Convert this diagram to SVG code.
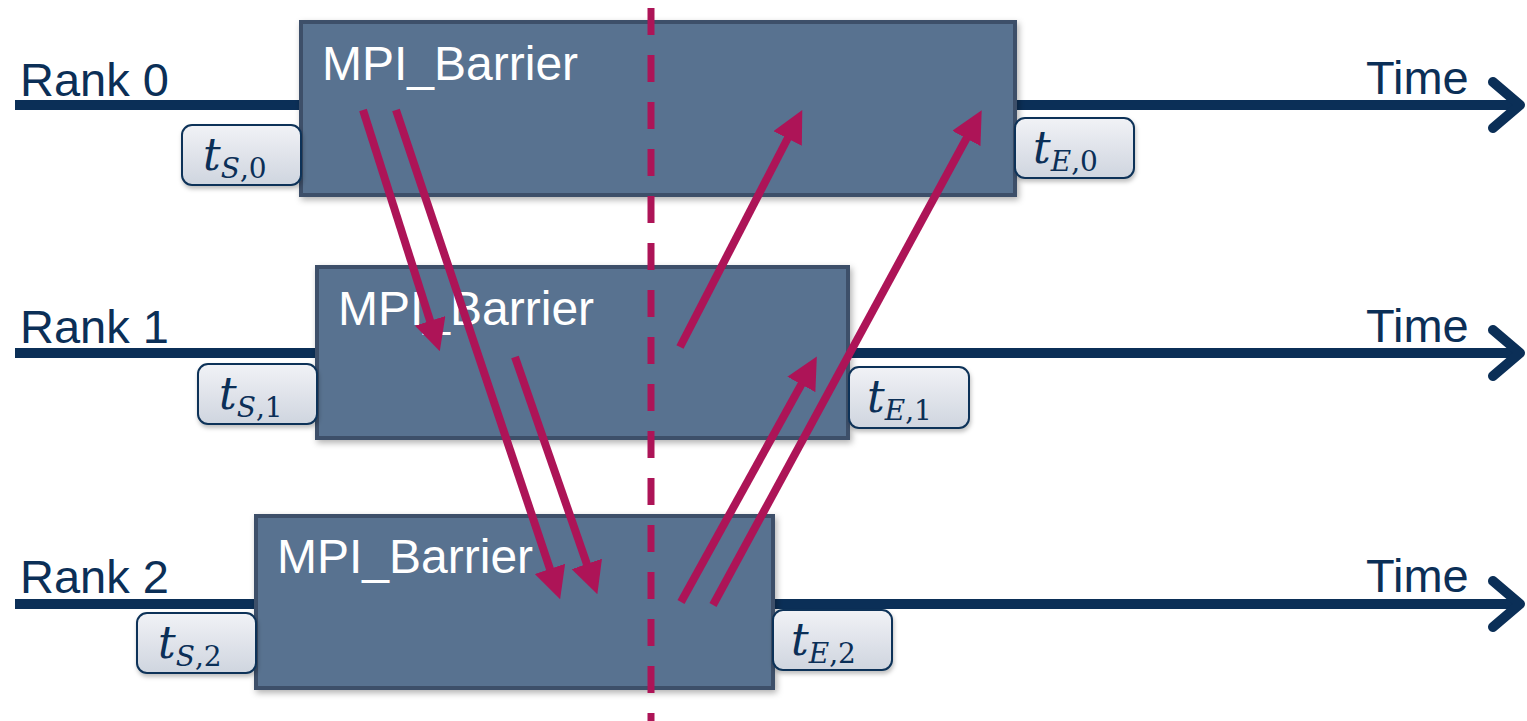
<svg xmlns="http://www.w3.org/2000/svg" width="1527" height="721" viewBox="0 0 1527 721">
<style>
.tl{stroke:#0b2f57;stroke-width:10;fill:none}
.chev{stroke:#0b2f57;stroke-width:10;fill:none;stroke-linecap:round;stroke-linejoin:round}
.rank{font-family:"Liberation Sans",Arial,sans-serif;font-size:47px;fill:#0b2f57}
.box{fill:#587290;stroke:#3c5069;stroke-width:4;filter:url(#sh)}
.bl{font-family:"Liberation Sans",Arial,sans-serif;font-size:48px;fill:#ffffff}
.tb{fill:url(#g);stroke:#0f3358;stroke-width:2;filter:url(#sh2)}
.tt{font-family:"DejaVu Serif","Liberation Serif",serif;font-style:italic;fill:#0b2f57}
.up{font-style:normal}
.msg{stroke:#ad1457;stroke-width:8;fill:none;marker-end:url(#ah)}
.dash{stroke:#ad1457;stroke-width:7;stroke-dasharray:27 20;fill:none}
</style>
<defs>
<linearGradient id="g" x1="0" y1="0" x2="0" y2="1">
<stop offset="0" stop-color="#f1f2f6"/>
<stop offset="1" stop-color="#cfd5df"/>
</linearGradient>
<filter id="sh" x="-5%" y="-5%" width="110%" height="115%">
<feDropShadow dx="2" dy="3" stdDeviation="3" flood-color="#000" flood-opacity="0.3"/>
</filter>
<filter id="sh2" x="-10%" y="-10%" width="120%" height="130%">
<feDropShadow dx="1" dy="3" stdDeviation="2" flood-color="#000" flood-opacity="0.25"/>
</filter>
<marker id="ah" markerWidth="4" markerHeight="4" refX="1.2" refY="2" orient="auto" markerUnits="strokeWidth" viewBox="0 0 4 4">
<path d="M0,0 L4,2 L0,4 Z" fill="#ad1457"/>
</marker>
</defs>
<g id="timelines">
<line class="tl" x1="15" y1="105" x2="1518" y2="105"/>
<polyline class="chev" points="1493,82 1520,105 1493,128"/>
<line class="tl" x1="15" y1="353" x2="1518" y2="353"/>
<polyline class="chev" points="1493,330 1520,353 1493,376"/>
<line class="tl" x1="15" y1="604" x2="1518" y2="604"/>
<polyline class="chev" points="1493,581 1520,604 1493,627"/>
<text class="rank" x="20" y="96">Rank 0</text>
<text class="rank" x="20" y="343">Rank 1</text>
<text class="rank" x="20" y="593">Rank 2</text>
<text class="rank" x="1366" y="94">Time</text>
<text class="rank" x="1366" y="342">Time</text>
<text class="rank" x="1366" y="592">Time</text>
</g>
<g id="barrier0">
<rect class="box" x="301" y="22" width="714" height="173"/>
<text class="bl" x="322" y="80">MPI_Barrier</text>
</g>
<g id="barrier1">
<rect class="box" x="317" y="267" width="531" height="171"/>
<text class="bl" x="338" y="325">MPI_Barrier</text>
</g>
<g id="barrier2">
<rect class="box" x="256" y="516" width="517" height="172"/>
<text class="bl" x="277" y="573">MPI_Barrier</text>
</g>
<g id="connectors">
<line class="dash" x1="651" y1="8" x2="651" y2="721"/>
<line class="msg" x1="363" y1="110" x2="433" y2="330"/>
<line class="msg" x1="396" y1="110" x2="553" y2="578"/>
<line class="msg" x1="515" y1="357" x2="590" y2="573"/>
<line class="msg" x1="680" y1="347" x2="792" y2="130"/>
<line class="msg" x1="681" y1="602" x2="806" y2="376"/>
<line class="msg" x1="713" y1="605" x2="971" y2="130"/>
</g>
<g id="ts0">
<rect class="tb" x="182" y="125" width="119" height="60" rx="10"/>
<text class="tt" x="203" y="170" font-size="44">t<tspan font-size="28" dy="8">S</tspan><tspan class="up" font-size="28">,0</tspan></text>
</g>
<g id="te0">
<rect class="tb" x="1015" y="118" width="119" height="60" rx="10"/>
<text class="tt" x="1033" y="163" font-size="44">t<tspan font-size="28" dy="8">E</tspan><tspan class="up" font-size="28">,0</tspan></text>
</g>
<g id="ts1">
<rect class="tb" x="198" y="364" width="119" height="60" rx="10"/>
<text class="tt" x="219" y="409" font-size="44">t<tspan font-size="28" dy="8">S</tspan><tspan class="up" font-size="28">,1</tspan></text>
</g>
<g id="te1">
<rect class="tb" x="849" y="367" width="120" height="61" rx="10"/>
<text class="tt" x="867" y="412" font-size="44">t<tspan font-size="28" dy="8">E</tspan><tspan class="up" font-size="28">,1</tspan></text>
</g>
<g id="ts2">
<rect class="tb" x="137" y="613" width="119" height="60" rx="10"/>
<text class="tt" x="158" y="658" font-size="44">t<tspan font-size="28" dy="8">S</tspan><tspan class="up" font-size="28">,2</tspan></text>
</g>
<g id="te2">
<rect class="tb" x="773" y="610" width="119" height="60" rx="10"/>
<text class="tt" x="791" y="655" font-size="44">t<tspan font-size="28" dy="8">E</tspan><tspan class="up" font-size="28">,2</tspan></text>
</g>
</svg>
